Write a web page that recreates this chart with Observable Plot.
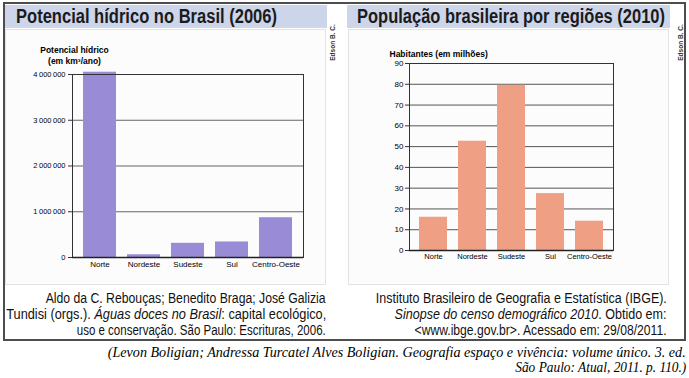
<!DOCTYPE html>
<html>
<head>
<meta charset="utf-8">
<script src="https://cdn.jsdelivr.net/npm/d3@7"></script>
<script src="https://cdn.jsdelivr.net/npm/@observablehq/plot@0.6"></script>
<style>
  html, body { margin: 0; padding: 0; background: #fff; }
  #page { position: relative; width: 689px; height: 378px; overflow: hidden; background: #fff; font-family: "Liberation Sans", Arial, sans-serif; }
  .abs { position: absolute; }
  .band { position: absolute; background: #cdd5ea; }
  .panel { position: absolute; background: #fcfcfc; border: 1px solid #e3e3e3; box-sizing: border-box; }
  .title { position: absolute; font-weight: bold; font-size: 20px; line-height: 22px; color: #1b1b1b; transform-origin: left center; white-space: nowrap; }
  .credit { position: absolute; font-weight: bold; font-size: 6.5px; line-height: 7px; color: #333; transform: rotate(-90deg); white-space: nowrap; }
  .src { position: absolute; font-size: 14px; line-height: 16px; color: #111; transform-origin: right center; white-space: nowrap; }
  .cite { position: absolute; font-family: "Liberation Serif", "Times New Roman", serif; font-style: italic; font-size: 14px; line-height: 16px; color: #000; transform-origin: right center; white-space: nowrap; }
  svg.chart { position: absolute; overflow: visible; }
</style>
</head>
<body>
<div id="page">
  <div class="abs" style="left:3px;top:2px;width:683px;height:339px;border:2px solid #4d4d4d;box-sizing:border-box;"></div>
  <div class="panel" style="left:5px;top:29px;width:321px;height:256px;"></div>
  <div class="panel" style="left:348px;top:29px;width:321px;height:256px;"></div>
  <div class="band" style="left:5px;top:5px;width:322px;height:23px;"></div>
  <div class="band" style="left:347px;top:5px;width:323px;height:23px;"></div>
  <div class="title" data-w="261" style="left:16px;top:5px;">Potencial hídrico no Brasil (2006)</div>
  <div class="title" data-w="308" style="left:357px;top:5px;">População brasileira por regiões (2010)</div>
  <div class="credit" style="left:314px;top:39px;">Edson B. C.</div>
  <div class="credit" style="left:662px;top:39px;">Edson B. C.</div>

  <div class="src" data-w="280" style="right:363px;top:290px;">Aldo da C. Rebouças; Benedito Braga; José Galizia</div>
  <div class="src" data-w="320" style="right:363px;top:306px;">Tundisi (orgs.). <i>Águas doces no Brasil</i>: capital ecológico,</div>
  <div class="src" data-w="249" style="right:363px;top:322px;">uso e conservação. São Paulo: Escrituras, 2006.</div>

  <div class="src" data-w="291" style="right:22px;top:290px;">Instituto Brasileiro de Geografia e Estatística (IBGE).</div>
  <div class="src" data-w="272" style="right:22px;top:306px;"><i>Sinopse do censo demográfico 2010</i>. Obtido em:</div>
  <div class="src" data-w="252" style="right:22px;top:322px;">&lt;www.ibge.gov.br&gt;. Acessado em: 29/08/2011.</div>

  <div class="cite" data-w="578" style="right:3px;top:345px;">(Levon Boligian; Andressa Turcatel Alves Boligian. Geografia espaço e vivência: volume único. 3. ed.</div>
  <div class="cite" data-w="171" style="right:3px;top:360px;">São Paulo: Atual, 2011. p. 110.)</div>
</div>
<script>
// ---- data ----
const regions = ["Norte", "Nordeste", "Sudeste", "Sul", "Centro-Oeste"];
const waterPotential = [4050000, 60000, 310000, 340000, 870000]; // km³/ano
const population = [16.0, 52.6, 79.5, 27.4, 14.1]; // milhões
const waterTicks = [0, 1000000, 2000000, 3000000, 4000000];
const popTicks = [0, 10, 20, 30, 40, 50, 60, 70, 80, 90];
const waterLabel = "Potencial hídrico\n(em km³/ano)";
const popLabel = "Habitantes (em milhões)";

const waterData = regions.map((r, i) => ({region: r, value: waterPotential[i]}));
const popData = regions.map((r, i) => ({region: r, value: population[i]}));

const fmtWater = d => d3.format(",")(d).replace(/,/g, "\u2009");
const font = "'Liberation Sans', Arial, sans-serif";
const page = document.getElementById("page");

const left = Plot.plot({
  width: 320, height: 255,
  marginLeft: 67, marginRight: 22, marginTop: 44, marginBottom: 28,
  style: {background: "transparent", fontFamily: font, color: "#000"},
  x: {domain: regions, paddingInner: 0.24, paddingOuter: 0.21, label: null},
  y: {domain: [0, 4000000], label: null},
  marks: [
    Plot.gridY(waterTicks, {stroke: "#666", strokeOpacity: 1}),
    Plot.barY(waterData, {x: "region", y: "value", fill: "#9a8bd6"}),
    Plot.frame({stroke: "#333"}),
    Plot.ruleY([0], {stroke: "#222", strokeWidth: 1.5}),
    Plot.axisY(waterTicks, {tickSize: 4, tickPadding: 3, tickFormat: fmtWater, label: null, fontSize: 7.5, stroke: "#333"}),
    Plot.axisX({tickSize: 0, tickPadding: 4, label: null, fontSize: 8}),
    Plot.text([waterLabel], {frameAnchor: "top-left", text: d => d, textAnchor: "middle", lineAnchor: "top", dx: 2, dy: -29, fontSize: 8.5, fontWeight: "bold", lineHeight: 1.25})
  ]
});
left.classList.add("chart");
left.style.left = "5px"; left.style.top = "30px";
page.appendChild(left);

const right = Plot.plot({
  width: 320, height: 255,
  marginLeft: 61, marginRight: 55, marginTop: 33, marginBottom: 35,
  style: {background: "transparent", fontFamily: font, color: "#000"},
  x: {domain: regions, paddingInner: 0.28, paddingOuter: 0.22, label: null},
  y: {domain: [0, 90], label: null},
  marks: [
    Plot.gridY(popTicks, {stroke: "#555", strokeOpacity: 1}),
    Plot.barY(popData, {x: "region", y: "value", fill: "#ef9f84"}),
    Plot.frame({stroke: "#333"}),
    Plot.ruleY([0], {stroke: "#222", strokeWidth: 1.5}),
    Plot.axisY(popTicks, {tickSize: 4, tickPadding: 2, label: null, fontSize: 8, stroke: "#333"}),
    Plot.axisX({tickSize: 0, tickPadding: 3, label: null, fontSize: 7.5}),
    Plot.text([popLabel], {frameAnchor: "top-left", text: d => d, textAnchor: "start", lineAnchor: "middle", dx: -20, dy: -9, fontSize: 8.5, fontWeight: "bold"})
  ]
});
right.classList.add("chart");
right.style.left = "348px"; right.style.top = "30px";
page.appendChild(right);

function fit() {
  document.querySelectorAll("[data-w]").forEach(el => {
    el.style.transform = "none";
    const w = el.getBoundingClientRect().width;
    const t = +el.dataset.w;
    if (w > 0) el.style.transform = `scaleX(${t / w})`;
  });
}
fit();
if (document.fonts && document.fonts.ready) document.fonts.ready.then(fit);
</script>
</body>
</html>
